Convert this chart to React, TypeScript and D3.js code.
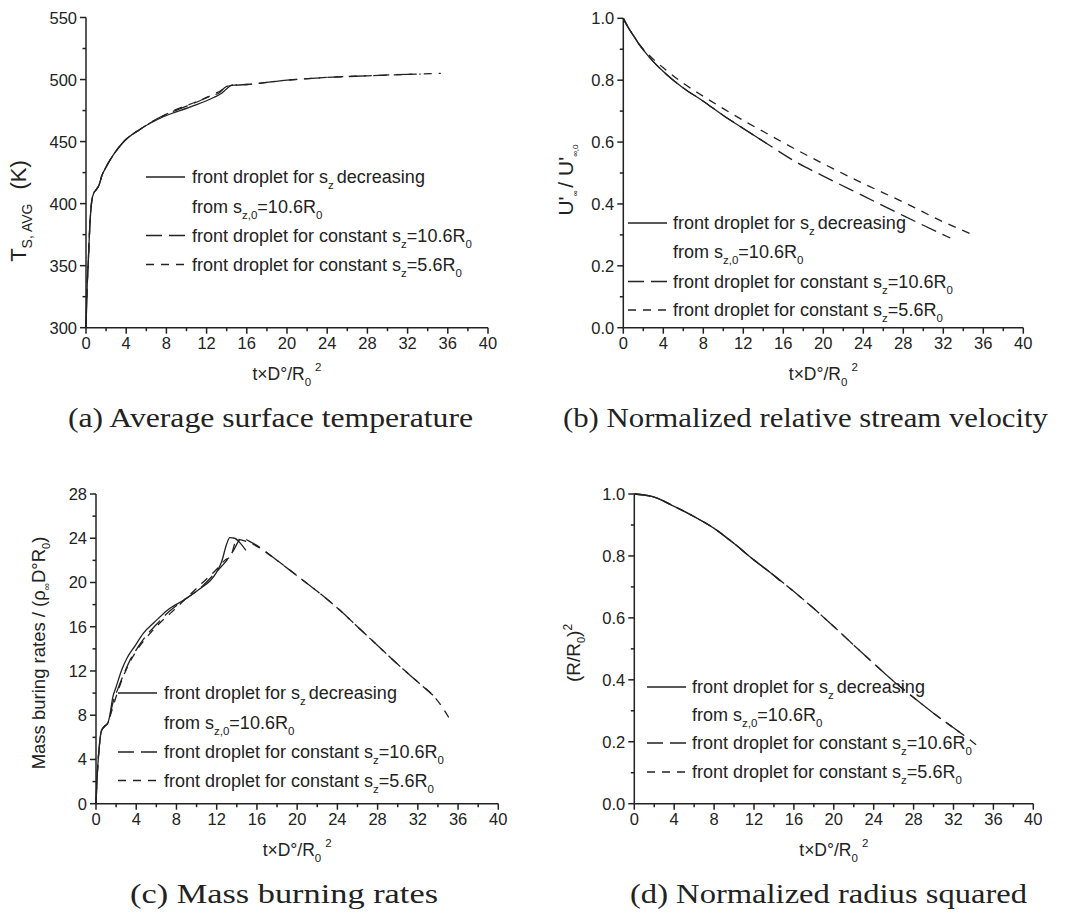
import React from 'react';
import * as d3 from 'd3';

const SANS = "'Liberation Sans', Arial, Helvetica, sans-serif";
const SERIF = "'Liberation Serif', 'Times New Roman', serif";
const INK = '#222';

// ---------- Panel (a): average surface temperature ----------
const aSolidT = [0, 0.1, 0.23, 0.4, 0.57, 0.75, 1.0, 1.3, 1.6, 1.9, 2.7, 3.7, 5.4, 7.7, 10.4, 12.7, 13.5, 14.2, 14.6];
const aSolidV = [300, 330, 354, 385, 402, 408, 411, 415, 423, 428, 439, 449.5, 460, 470, 478, 485.5, 489, 494, 496];
const aLongT = [0, 0.1, 0.23, 0.4, 0.57, 0.75, 1.0, 1.3, 1.6, 1.9, 2.7, 3.7, 5.4, 7.7, 9.2, 10.9, 12.5, 13.2, 14, 15, 16, 20, 24, 28, 32, 33.3];
const aLongV = [300, 330, 354, 385, 402, 408, 411, 415, 423, 428, 439, 449.5, 460, 471, 476, 481.5, 487, 489, 494.5, 495.5, 496, 499.5, 501.7, 503, 504.2, 504.4];
const aShortT = [0, 0.1, 0.23, 0.4, 0.57, 0.75, 1.0, 1.3, 1.6, 1.9, 2.7, 3.7, 5.4, 7.7, 9.0, 10.8, 12.4, 13.4, 14.3, 15, 16, 20, 24, 28, 32, 35.3];
const aShortV = [300, 330, 354, 385, 402, 408, 411, 415, 423, 428, 439, 449.5, 460, 470.8, 476, 481.5, 487, 491, 495, 495.6, 496, 499.5, 501.7, 503, 504.2, 505];

// ---------- Panel (b): normalized relative stream velocity ----------
const bSolidT = [0, 0.5, 1, 1.5, 2, 3, 4, 5, 6, 8, 10, 12, 14.3];
const bSolidV = [1.0, 0.97, 0.945, 0.92, 0.898, 0.86, 0.828, 0.8, 0.775, 0.732, 0.686, 0.644, 0.596];
const bLongT = [0, 0.5, 1, 1.5, 2, 3, 4, 5, 6, 8, 10, 12, 14.3, 17.3, 20, 24, 28, 32.7];
const bLongV = [1.0, 0.97, 0.945, 0.92, 0.898, 0.86, 0.828, 0.8, 0.775, 0.732, 0.686, 0.644, 0.596, 0.535, 0.49, 0.426, 0.362, 0.29];
const bShortT = [0, 0.5, 1, 1.5, 2, 3, 4, 6, 8, 10, 12, 14, 16, 20, 24, 28, 32, 35];
const bShortV = [1.0, 0.97, 0.945, 0.92, 0.9, 0.868, 0.84, 0.79, 0.748, 0.708, 0.67, 0.634, 0.598, 0.53, 0.466, 0.406, 0.342, 0.3];

// ---------- Panel (c): mass burning rates ----------
const cSolidT = [0, 0.13, 0.32, 0.54, 0.86, 1.18, 1.4, 1.66, 1.98, 2.6, 3.1, 3.9, 4.7, 5.8, 7.1, 8.7, 10.3, 11.9, 12.5, 13.0, 13.3, 13.8, 14.3, 14.9];
const cSolidV = [0, 2.7, 5.1, 6.6, 7.0, 7.3, 8.1, 9.6, 10.5, 12.2, 13.2, 14.3, 15.4, 16.4, 17.5, 18.4, 19.4, 20.8, 21.9, 23.5, 24.05, 24.0, 23.6, 22.9];
const cLongT = [0, 0.13, 0.32, 0.54, 0.86, 1.18, 1.4, 1.7, 2.1, 2.8, 3.4, 4.2, 5.0, 6.0, 7.3, 8.9, 10.5, 12.0, 13.0, 13.6, 14.5, 15.5, 18, 20, 22, 24, 26, 28, 30, 32, 33.5];
const cLongV = [0, 2.7, 5.1, 6.6, 7.0, 7.3, 8.0, 9.2, 10.2, 11.8, 13.0, 14.2, 15.2, 16.2, 17.4, 18.5, 19.6, 21.0, 22.0, 22.8, 24.0, 23.6, 22.0, 20.6, 19.2, 17.7, 16.0, 14.3, 12.6, 11.0, 9.8];
const cShortT = [0, 0.13, 0.32, 0.54, 0.86, 1.18, 1.5, 1.9, 2.5, 3.2, 4.0, 5.0, 6.2, 7.5, 9.0, 10.5, 12.0, 12.8, 13.4, 14.0, 15.5, 18, 20, 22, 24, 26, 28, 30, 32, 33.5, 34.3, 35.2];
const cShortV = [0, 2.7, 5.1, 6.6, 7.0, 7.3, 8.2, 9.4, 11.0, 12.5, 13.8, 15.0, 16.2, 17.3, 18.6, 19.9, 21.2, 22.0, 22.4, 23.9, 23.5, 22.0, 20.6, 19.2, 17.7, 16.0, 14.3, 12.6, 11.0, 9.8, 8.9, 7.6];

// ---------- Panel (d): normalized radius squared ----------
const dSolidT = [0, 2, 4, 6, 8, 10, 12, 14, 14.6];
const dSolidV = [1.0, 0.99, 0.96, 0.927, 0.889, 0.84, 0.787, 0.737, 0.72];
const dLongT = [0, 2, 4, 6, 8, 10, 12, 14, 16, 18, 20, 22, 24, 26, 28, 30, 32, 33];
const dLongV = [1.0, 0.99, 0.96, 0.927, 0.889, 0.84, 0.787, 0.737, 0.685, 0.63, 0.572, 0.512, 0.453, 0.395, 0.343, 0.292, 0.245, 0.222];
const dShortT = [0, 2, 4, 6, 8, 10, 12, 14, 16, 18, 20, 22, 24, 26, 28, 30, 32, 33, 34.5];
const dShortV = [1.0, 0.99, 0.96, 0.927, 0.889, 0.84, 0.787, 0.737, 0.685, 0.63, 0.572, 0.512, 0.453, 0.395, 0.343, 0.292, 0.245, 0.222, 0.184];

const LONG = '16,7';
const SHORT = '8,7';

type Series = { t: number[]; v: number[]; dash: string | null };

const zip = (t: number[], v: number[]): [number, number][] => t.map((d, i) => [d, v[i]]);

function Legend({ lineX, textX, rows }: { lineX: number; textX: number; rows: number[] }) {
  const fs = 18;
  const sf = 11.5;
  const sd = 6;
  const dashes = [null, null, LONG, SHORT];
  return (
    <g fontFamily={SANS} fontSize={fs} fill={INK}>
      {[0, 2, 3].map((r) => (
        <line key={r} x1={lineX} x2={lineX + 39} y1={rows[r]} y2={rows[r]} stroke={INK} strokeWidth={1.3}
          strokeDasharray={dashes[r] || undefined} />
      ))}
      <text x={textX} y={rows[0] + 6}>
        front droplet for s<tspan fontSize={sf} dy={sd}>z</tspan><tspan dy={-sd} dx={3}>decreasing</tspan>
      </text>
      <text x={textX} y={rows[1] + 6}>
        from s<tspan fontSize={sf} dy={sd}>z,0</tspan><tspan dy={-sd}>=10.6R</tspan><tspan fontSize={sf} dy={sd}>0</tspan>
      </text>
      <text x={textX} y={rows[2] + 6}>
        front droplet for constant s<tspan fontSize={sf} dy={sd}>z</tspan><tspan dy={-sd}>=10.6R</tspan><tspan fontSize={sf} dy={sd}>0</tspan>
      </text>
      <text x={textX} y={rows[3] + 6}>
        front droplet for constant s<tspan fontSize={sf} dy={sd}>z</tspan><tspan dy={-sd}>=5.6R</tspan><tspan fontSize={sf} dy={sd}>0</tspan>
      </text>
    </g>
  );
}

type PanelProps = {
  x0: number; x1: number; yTop: number; yBot: number;
  yDomain: [number, number]; yStep: number; yFmt: (v: number) => string;
  series: Series[];
  legend: { lineX: number; textX: number; rows: number[] };
  ylabel: React.ReactNode;
};

function Panel(p: PanelProps) {
  const x = d3.scaleLinear().domain([0, 40]).range([p.x0, p.x1]);
  const y = d3.scaleLinear().domain(p.yDomain).range([p.yBot, p.yTop]);
  const line = d3.line<[number, number]>().x((d) => x(d[0])).y((d) => y(d[1])).curve(d3.curveMonotoneX);
  const xMajor = d3.range(0, 40.0001, 4);
  const xMinor = d3.range(2, 40, 4);
  const n = Math.round((p.yDomain[1] - p.yDomain[0]) / p.yStep);
  const yMajor = d3.range(0, n + 1).map((i) => p.yDomain[0] + i * p.yStep);
  const yMinor = d3.range(0, n).map((i) => p.yDomain[0] + (i + 0.5) * p.yStep);
  const cx = (p.x0 + p.x1) / 2;
  return (
    <g>
      <g stroke={INK} strokeWidth={1.5}>
        <line x1={p.x0} x2={p.x1} y1={p.yBot} y2={p.yBot} />
        <line x1={p.x0} x2={p.x0} y1={p.yBot} y2={p.yTop} />
        {xMajor.map((v) => <line key={'xm' + v} x1={x(v)} x2={x(v)} y1={p.yBot} y2={p.yBot + 6} />)}
        {xMinor.map((v) => <line key={'xn' + v} x1={x(v)} x2={x(v)} y1={p.yBot} y2={p.yBot + 3.5} />)}
        {yMajor.map((v) => <line key={'ym' + v} x1={p.x0 - 6} x2={p.x0} y1={y(v)} y2={y(v)} />)}
        {yMinor.map((v) => <line key={'yn' + v} x1={p.x0 - 3.5} x2={p.x0} y1={y(v)} y2={y(v)} />)}
      </g>
      <g fontFamily={SANS} fontSize={16.5} fill={INK}>
        {xMajor.map((v) => (
          <text key={'xl' + v} x={x(v)} y={p.yBot + 21} textAnchor="middle">{d3.format('d')(v)}</text>
        ))}
        {yMajor.map((v) => (
          <text key={'yl' + v} x={p.x0 - 9} y={y(v) + 6} textAnchor="end">{p.yFmt(v)}</text>
        ))}
      </g>
      <text x={cx} y={p.yBot + 52.5} textAnchor="middle" fontFamily={SANS} fontSize={17.5} fill={INK}>
        t×D°/R<tspan fontSize={11.5} dy={6}>0</tspan><tspan fontSize={11.5} dy={-15} dx={4}>2</tspan>
      </text>
      {p.ylabel}
      <Legend {...p.legend} />
      <g fill="none" stroke={INK} strokeWidth={1.3}>
        {p.series.map((s, i) => (
          <path key={i} d={line(zip(s.t, s.v)) || ''} strokeDasharray={s.dash || undefined} />
        ))}
      </g>
    </g>
  );
}

export default function App() {
  const f1 = (v: number) => d3.format('.1f')(v);
  const fi = (v: number) => d3.format('d')(v);
  return (
    <svg width={1073} height={923} viewBox="0 0 1073 923"
      style={{ position: 'absolute', left: 0, top: 0, background: '#fff' }}>
      <rect x={0} y={0} width={1073} height={923} fill="#fff" />
      <Panel x0={86} x1={488} yTop={17.5} yBot={327.7} yDomain={[300, 550]} yStep={50} yFmt={fi}
        series={[
          { t: aLongT, v: aLongV, dash: LONG },
          { t: aShortT, v: aShortV, dash: SHORT },
          { t: aSolidT, v: aSolidV, dash: null },
        ]}
        legend={{ lineX: 146, textX: 192, rows: [177, 206.5, 235.5, 264.5] }}
        ylabel={
          <text transform="translate(26,211) rotate(-90)" textAnchor="middle" fontFamily={SANS} fontSize={22} fill={INK}>
            T<tspan fontSize={14} dy={6}>S, AVG</tspan><tspan dy={-6} dx={14}>(K)</tspan>
          </text>
        }
      />
      <Panel x0={623.3} x1={1023.3} yTop={18.3} yBot={327.7} yDomain={[0, 1]} yStep={0.2} yFmt={f1}
        series={[
          { t: bLongT, v: bLongV, dash: LONG },
          { t: bShortT, v: bShortV, dash: SHORT },
          { t: bSolidT, v: bSolidV, dash: null },
        ]}
        legend={{ lineX: 628, textX: 673, rows: [223, 252, 281.5, 310] }}
        ylabel={
          <text transform="translate(573,180) rotate(-90)" textAnchor="middle" fontFamily={SANS} fontSize={21} fill={INK}>
            U'<tspan fontSize={8} dy={5}>∞</tspan><tspan dy={-5} dx={3}>/ U'</tspan><tspan fontSize={8} dy={5}>∞,0</tspan>
          </text>
        }
      />
      <Panel x0={96} x1={498.3} yTop={494} yBot={803.7} yDomain={[0, 28]} yStep={4} yFmt={fi}
        series={[
          { t: cLongT, v: cLongV, dash: LONG },
          { t: cShortT, v: cShortV, dash: SHORT },
          { t: cSolidT, v: cSolidV, dash: null },
        ]}
        legend={{ lineX: 118, textX: 164, rows: [693, 722.5, 752, 780.5] }}
        ylabel={
          <text transform="translate(45,653) rotate(-90)" textAnchor="middle" fontFamily={SANS} fontSize={18.5} fill={INK}>
            Mass buring rates / (ρ<tspan fontSize={10} dy={5}>∞</tspan><tspan dy={-5}>D°R</tspan><tspan fontSize={11} dy={5}>0</tspan><tspan dy={-5}>)</tspan>
          </text>
        }
      />
      <Panel x0={634.3} x1={1033.3} yTop={494} yBot={803.7} yDomain={[0, 1]} yStep={0.2} yFmt={f1}
        series={[
          { t: dLongT, v: dLongV, dash: LONG },
          { t: dShortT, v: dShortV, dash: SHORT },
          { t: dSolidT, v: dSolidV, dash: null },
        ]}
        legend={{ lineX: 647, textX: 692, rows: [687, 715, 743, 772] }}
        ylabel={
          <text transform="translate(580,653) rotate(-90)" textAnchor="middle" fontFamily={SANS} fontSize={19} fill={INK}>
            (R/R<tspan fontSize={11} dy={5}>0</tspan><tspan dy={-5}>)</tspan><tspan fontSize={12} dy={-8}>2</tspan>
          </text>
        }
      />
      <g fontFamily={SERIF} fontSize={27} fill={INK}>
        <text x={68} y={427} textLength={405} lengthAdjust="spacingAndGlyphs">(a) Average surface temperature</text>
        <text x={563} y={427} textLength={485} lengthAdjust="spacingAndGlyphs">(b) Normalized relative stream velocity</text>
        <text x={130} y={903} textLength={308} lengthAdjust="spacingAndGlyphs">(c) Mass burning rates</text>
        <text x={630} y={903} textLength={397} lengthAdjust="spacingAndGlyphs">(d) Normalized radius squared</text>
      </g>
    </svg>
  );
}
